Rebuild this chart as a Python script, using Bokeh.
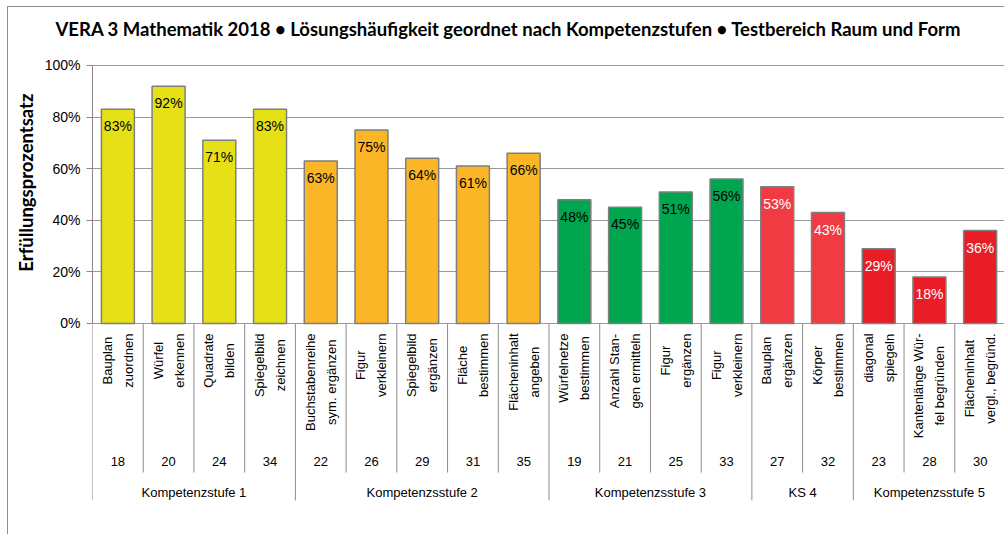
import math
from bokeh.plotting import figure
from bokeh.models import Range1d, FixedTicker, NumeralTickFormatter, Title, ColumnDataSource
from bokeh.core.properties import value
from bokeh.embed import file_html
from bokeh.resources import INLINE

# ---------------- data ----------------
task_labels = [
    "Bauplan\nzuordnen", "Würfel\nerkennen", "Quadrate\nbilden", "Spiegelbild\nzeichnen",
    "Buchstabenreihe\nsym. ergänzen", "Figur\nverkleinern", "Spiegelbild\nergänzen",
    "Fläche\nbestimmen", "Flächeninhalt\nangeben",
    "Würfelnetze\nbestimmen", "Anzahl Stan-\ngen ermitteln", "Figur\nergänzen", "Figur\nverkleinern",
    "Bauplan\nergänzen", "Körper\nbestimmen",
    "diagonal\nspiegeln", "Kantenlänge Wür-\nfel begründen", "Flächeninhalt\nvergl., begründ.",
]
task_numbers = ["18", "20", "24", "34", "22", "26", "29", "31", "35",
                "19", "21", "25", "33", "27", "32", "23", "28", "30"]
values = [83, 92, 71, 83, 63, 75, 64, 61, 66, 48, 45, 51, 56, 53, 43, 29, 18, 36]
groups = ["Kompetenzstufe 1", "Kompetenzsstufe 2", "Kompetenzsstufe 3", "KS 4", "Kompetenzsstufe 5"]
group_sizes = [4, 5, 4, 2, 3]
group_colors = ["#E6E117", "#FBB627", "#00A64F", "#EF3B41", "#E81D25"]
group_text_colors = ["black", "black", "black", "white", "white"]
title_text = "VERA 3 Mathematik 2018 • Lösungshäufigkeit  geordnet nach  Kompetenzstufen • Testbereich Raum und Form"
y_label = "Erfüllungsprozentsatz"

# ---------------- derived ----------------
n = len(values)
centers = [i + 0.5 for i in range(n)]
fracs = [v / 100 for v in values]
bar_colors, txt_colors = [], []
group_bounds = [0]
for g, size in enumerate(group_sizes):
    bar_colors += [group_colors[g]] * size
    txt_colors += [group_text_colors[g]] * size
    group_bounds.append(group_bounds[-1] + size)
group_centers = [(group_bounds[i] + group_bounds[i + 1]) / 2 for i in range(len(group_sizes))]

Y_NUM = -0.537
Y_GRP = -0.654
Y_SEP_IN = -0.578
Y_SEP_GRP = -0.686
Y_TOP = 1.0 + 16 / 258   # small head room above 100 %

p = figure(width=997, height=528, output_backend="svg", toolbar_location=None,
           x_range=Range1d(0, n), y_range=Range1d(-0.76, Y_TOP),
           x_axis_location=None, min_border_left=83, min_border_right=0,
           min_border_top=42, min_border_bottom=16)
p.outline_line_color = None
p.xgrid.visible = False
p.styles = {"margin-left": "7px", "margin-top": "6px",
            "border-left": "1px solid #8c8c8c", "border-top": "1px solid #8c8c8c"}

ticks = [0, 0.2, 0.4, 0.6, 0.8, 1.0]
p.yaxis.ticker = FixedTicker(ticks=ticks)
p.yaxis.formatter = NumeralTickFormatter(format="0%")
p.yaxis.bounds = (0, 1)
p.yaxis.axis_line_color = "#888888"
p.yaxis.major_tick_line_color = "#888888"
p.yaxis.major_tick_out = 6
p.yaxis.major_tick_in = 0
p.yaxis.minor_tick_line_color = None
p.yaxis.major_label_text_font = "Liberation Sans"
p.yaxis.major_label_text_font_size = "14px"
p.yaxis.major_label_text_color = "black"
p.yaxis.major_label_standoff = 6
p.ygrid.ticker = FixedTicker(ticks=ticks)
p.ygrid.grid_line_color = "#999999"
p.ygrid.grid_line_width = 1

# separators below axis
inner = [i for i in range(n + 1) if i not in group_bounds]
p.segment(x0=inner, y0=[0] * len(inner), x1=inner, y1=[Y_SEP_IN] * len(inner),
          line_color="#8c8c8c", line_width=1)
p.segment(x0=group_bounds, y0=[0] * len(group_bounds), x1=group_bounds,
          y1=[Y_SEP_GRP] * len(group_bounds), line_color="#8c8c8c", line_width=1)

src = ColumnDataSource(dict(x=centers, top=fracs, color=bar_colors, tcol=txt_colors,
                            lab=[f"{v}%" for v in values], task=task_labels, num=task_numbers))
p.vbar(x="x", top="top", width=0.65, bottom=0, fill_color="color", line_color="#7f7f7f",
       line_width=1.5, source=src)

p.text(x="x", y="top", text="lab", text_color="tcol", text_align="center", text_baseline="top",
       y_offset=9, text_font=value("Liberation Sans"), text_font_size=value("14px"), source=src)

p.text(x="x", y=0, text="task", angle=math.pi / 2, text_align="center", anchor="center_right",
       y_offset=10, text_line_height=1.4, text_color="black",
       text_font=value("Liberation Sans"), text_font_size=value("13px"), source=src)

p.text(x="x", y=Y_NUM, text="num", text_align="center", text_baseline="middle", text_color="black",
       text_font=value("Liberation Sans"), text_font_size=value("13px"), source=src)

p.text(x=group_centers, y=[Y_GRP] * len(groups), text=groups, text_align="center",
       text_baseline="middle", text_color="black",
       text_font=value("Liberation Sans"), text_font_size=value("13px"))

p.add_layout(Title(text=title_text, align="left", offset=-37, standoff=18, vertical_align="middle",
                   text_font="Lato", text_font_style="bold", text_font_size="18.5px",
                   text_color="black"), "above")
p.add_layout(Title(text=y_label, align="right", offset=44, standoff=9,
                   text_font="Lato", text_font_style="bold", text_font_size="18.5px",
                   text_color="black"), "left")

open("out.html", "w").write(file_html(p, INLINE))
